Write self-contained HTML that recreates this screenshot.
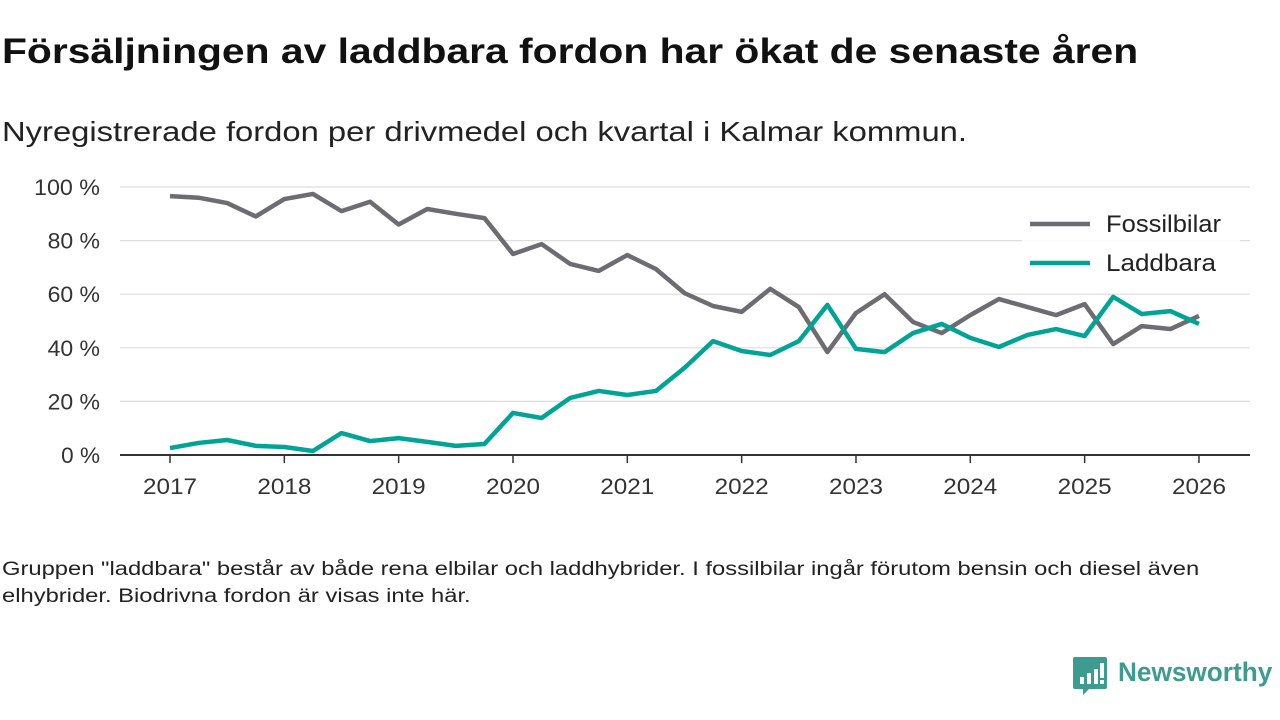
<!DOCTYPE html>
<html><head><meta charset="utf-8"><style>
body{margin:0;width:1280px;height:720px;background:#fff;font-family:"Liberation Sans",sans-serif;overflow:hidden;position:relative;color:#111}
.t{position:absolute;white-space:nowrap;transform-origin:0 0}
</style></head><body>
<div class="t" style="left:2px;top:32px;font-size:35px;font-weight:bold;transform:scaleX(1.166)">Försäljningen av laddbara fordon har ökat de senaste åren</div>
<div class="t" style="left:2px;top:116px;font-size:28px;color:#222;transform:scaleX(1.17)">Nyregistrerade fordon per drivmedel och kvartal i Kalmar kommun.</div>
<svg id="chart" width="1280" height="720" style="position:absolute;left:0;top:0"></svg>
<div class="t" style="left:2px;top:556px;font-size:19px;line-height:27px;color:#222;transform:scaleX(1.25)">Gruppen "laddbara" består av både rena elbilar och laddhybrider. I fossilbilar ingår förutom bensin och diesel även<br>elhybrider. Biodrivna fordon är visas inte här.</div>
<div style="position:absolute;left:1073px;top:657px">
<svg width="36" height="38"><path d="M2 0h30a2 2 0 0 1 2 2v28a2 2 0 0 1-2 2H16l-6 6v-6H2a2 2 0 0 1-2-2V2a2 2 0 0 1 2-2z" fill="#3d9c8f"/><rect x="7" y="20" width="4" height="7" fill="#fff"/><rect x="14" y="16" width="4" height="11" fill="#fff"/><rect x="21" y="12" width="4" height="15" fill="#fff"/><rect x="27" y="6" width="4" height="15" fill="#fff"/><rect x="27" y="23" width="4" height="4" fill="#fff"/></svg>
<div class="t" style="left:45px;top:0px;font-size:27px;font-weight:bold;color:#3d9c8f;transform:scaleX(0.97)">Newsworthy</div></div>
<script>
const years=[2017,2018,2019,2020,2021,2022,2023,2024,2025,2026];
const yTicks=[0,20,40,60,80,100];
const fossil=[96.6,96,94,89,95.5,97.4,91,94.5,86,91.8,90,88.4,75,78.7,71.3,68.7,74.6,69.4,60.4,55.6,53.4,62,55.2,38.4,53,60,49.6,45.5,52.2,58.2,55.2,52.2,56.3,41.4,48.1,47,51.9];
const laddbara=[2.6,4.5,5.6,3.4,3,1.5,8.2,5.2,6.3,4.9,3.4,4.1,15.7,13.8,21.3,23.9,22.4,23.9,32.5,42.5,38.8,37.3,42.5,56,39.6,38.4,45.5,48.9,43.7,40.3,44.8,47,44.4,59,52.6,53.7,48.9];
const svg=document.getElementById('chart');const NS='http://www.w3.org/2000/svg';
const x=t=>170+(t-2017)*114.33;const y=v=>455-v*2.68;
function el(tag,a,txt){const e=document.createElementNS(NS,tag);for(const k in a)e.setAttribute(k,a[k]);if(txt!=null)e.textContent=txt;svg.appendChild(e);return e;}
yTicks.forEach(v=>{const g=el('line',{x1:120,x2:1250,y1:y(v),y2:y(v),stroke:v==0?'#333':'#ddd','stroke-width':v==0?2:1.2});


const s=String(v)+' %';
const t=el('text',{x:100,y:y(v)+8,'text-anchor':'end','font-size':22,fill:'#333','font-family':'Liberation Sans',textLength:s.length*13.6-2,lengthAdjust:'spacingAndGlyphs'},s);

});
years.forEach(yr=>{const l=el('line',{x1:x(yr),x2:x(yr),y1:455,y2:463,stroke:'#333','stroke-width':1.5});


const t=el('text',{x:x(yr),y:494,'text-anchor':'middle','font-size':22,fill:'#333','font-family':'Liberation Sans',textLength:54,lengthAdjust:'spacingAndGlyphs'},yr);

});
function line(d,c,n){const p=el('polyline',{points:d.map((v,i)=>x(2017+i/4)+','+y(v)).join(' '),fill:'none',stroke:c,'stroke-width':4.5,'stroke-linejoin':'round'});

}
line(fossil,'#6d6c72','fossilbilar-line');line(laddbara,'#00a497','laddbara-line');
const bg=el('rect',{x:1022,y:204,width:218,height:80,fill:'#fff',opacity:0.9});


[['Fossilbilar','#6d6c72',224,115],['Laddbara','#00a497',263,110]].forEach(([n,c,yy,w])=>{
const l=el('line',{x1:1030,x2:1090,y1:yy,y2:yy,stroke:c,'stroke-width':4.5});


const t=el('text',{x:1106,y:yy+8,'font-size':24,fill:'#222','font-family':'Liberation Sans',textLength:w,lengthAdjust:'spacingAndGlyphs'},n);

});
</script>
</body></html>
